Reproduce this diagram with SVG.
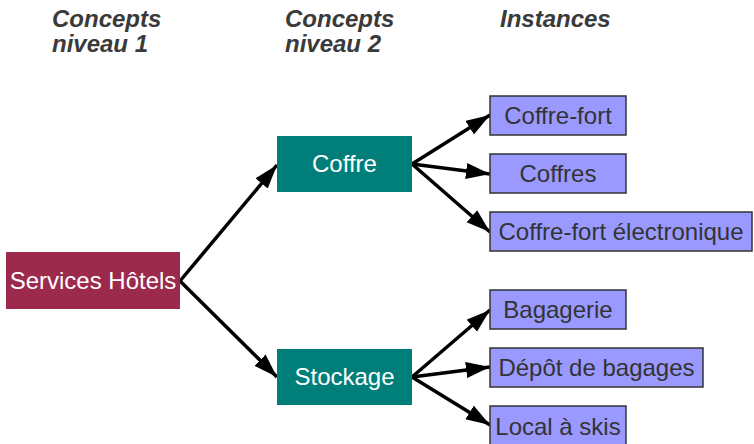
<svg xmlns="http://www.w3.org/2000/svg" width="754" height="444" viewBox="0 0 754 444">
<defs>
<style>
.hdr{font-family:"Liberation Sans",Arial,sans-serif;font-size:24px;font-weight:bold;font-style:italic;fill:#3a3a3a}
.lbl{font-family:"Liberation Sans",Arial,sans-serif;font-size:24px;text-anchor:middle}
.w{fill:#ffffff}
.d{fill:#333333}
.inst{fill:#9999ff;stroke:#333333;stroke-width:1.5}
.l1{fill:#9b2a4d}
.l2{fill:#007f7a}
.conn line{stroke:#000;stroke-width:3.5;marker-end:url(#ah)}
</style>
<marker id="ah" markerUnits="userSpaceOnUse" markerWidth="26" markerHeight="18" refX="24" refY="8" orient="auto">
<path d="M0,0 L24,8 L0,16 z" fill="#000"/>
</marker>
</defs>
<rect width="754" height="444" fill="#ffffff"/>
<g id="headers">
<text class="hdr" x="52" y="27">Concepts</text>
<text class="hdr" x="52" y="52">niveau 1</text>
<text class="hdr" x="285" y="27">Concepts</text>
<text class="hdr" x="285" y="52">niveau 2</text>
<text class="hdr" x="500" y="27">Instances</text>
</g>
<g class="conn" id="connectors">
<line x1="180" y1="281" x2="277" y2="165"/>
<line x1="180" y1="281" x2="277" y2="377"/>
<line x1="412" y1="164" x2="490" y2="115"/>
<line x1="412" y1="164" x2="490" y2="174"/>
<line x1="412" y1="164" x2="490" y2="232"/>
<line x1="412" y1="377" x2="490" y2="310"/>
<line x1="412" y1="377" x2="490" y2="367"/>
<line x1="412" y1="377" x2="490" y2="425"/>
</g>
<g id="services-hotels">
<rect class="l1" x="6" y="252" width="174" height="57"/>
<text class="lbl w" x="93" y="289">Services Hôtels</text>
</g>
<g id="coffre">
<rect class="l2" x="277" y="136" width="135" height="56"/>
<text class="lbl w" x="344.5" y="172">Coffre</text>
</g>
<g id="stockage">
<rect class="l2" x="277" y="349" width="135" height="56"/>
<text class="lbl w" x="344.5" y="385">Stockage</text>
</g>
<g id="coffre-fort">
<rect class="inst" x="490" y="96" width="136" height="39"/>
<text class="lbl d" x="558" y="124">Coffre-fort</text>
</g>
<g id="coffres">
<rect class="inst" x="490" y="154" width="136" height="39"/>
<text class="lbl d" x="558" y="182">Coffres</text>
</g>
<g id="coffre-fort-electronique">
<rect class="inst" x="490" y="212" width="262" height="39"/>
<text class="lbl d" x="621" y="240">Coffre-fort électronique</text>
</g>
<g id="bagagerie">
<rect class="inst" x="490" y="290" width="136" height="39"/>
<text class="lbl d" x="558" y="318">Bagagerie</text>
</g>
<g id="depot-de-bagages">
<rect class="inst" x="490" y="348" width="213" height="39"/>
<text class="lbl d" x="596.5" y="376">Dépôt de bagages</text>
</g>
<g id="local-a-skis">
<rect class="inst" x="490" y="406" width="136" height="40"/>
<text class="lbl d" x="558" y="435">Local à skis</text>
</g>
</svg>
